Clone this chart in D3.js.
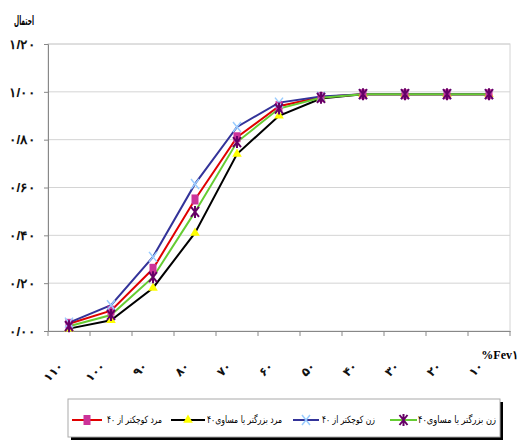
<!DOCTYPE html>
<html>
<head>
<meta charset="utf-8">
<script src="https://cdn.jsdelivr.net/npm/d3@7"></script>
<style>
  body { margin: 0; background: #fff; }
  svg { display: block; font-family: "DejaVu Sans", sans-serif; }
</style>
</head>
<body>
<div id="chart"></div>
<script>
// categories (FEV1 %), shown right to left as in the original
const categories = ["۱۱۰", "۱۰۰", "۹۰", "۸۰", "۷۰", "۶۰", "۵۰", "۴۰", "۳۰", "۲۰", "۱۰"];
const yTicks = [0, 0.2, 0.4, 0.6, 0.8, 1.0, 1.2];
const yTickLabels = ["۰/۰۰", "۰/۲۰", "۰/۴۰", "۰/۶۰", "۰/۸۰", "۱/۰۰", "۱/۲۰"];

// series values (probability)
const menUnder40 = [0.03, 0.085, 0.26, 0.55, 0.81, 0.94, 0.978, 0.99, 0.99, 0.99, 0.99];
const menOver40 = [0.01, 0.045, 0.18, 0.41, 0.74, 0.90, 0.972, 0.99, 0.99, 0.99, 0.99];
const womenUnder40 = [0.035, 0.108, 0.31, 0.615, 0.853, 0.955, 0.98, 0.99, 0.99, 0.99, 0.99];
const womenOver40 = [0.02, 0.067, 0.225, 0.498, 0.79, 0.93, 0.975, 0.99, 0.99, 0.99, 0.99];

const seriesNames = ["مرد کوچکتر از ۴۰", "مرد بزرگتر یا مساوی۴۰", "زن کوچکتر از ۴۰", "زن بزرگتر یا مساوی۴۰"];

const W = 519, H = 441;
const plotL = 48, plotR = 510, plotT = 44, plotB = 331;

const svg = d3.select("#chart").append("svg")
    .attr("width", W)
    .attr("height", H);

const x = d3.scaleBand().domain(categories).range([plotL, plotR]);
const y = d3.scaleLinear().domain([0, 1.2]).range([plotB, plotT]);

// plot frame + gridlines
svg.append("rect")
    .attr("x", plotL).attr("y", plotT)
    .attr("width", plotR - plotL).attr("height", plotB - plotT)
    .attr("fill", "none").attr("stroke", "#d4d4d4");

svg.selectAll("line.grid")
    .data(yTicks.slice(1))
    .enter().append("line")
    .attr("class", "grid")
    .attr("x1", plotL).attr("x2", plotR)
    .attr("y1", d => y(d)).attr("y2", d => y(d))
    .attr("stroke", "#d4d4d4");

// y axis
const yAxis = svg.append("g")
    .attr("transform", `translate(${plotL},0)`)
    .call(d3.axisLeft(y).tickValues(yTicks).tickSize(4).tickFormat((d, i) => yTickLabels[i]));
yAxis.select(".domain").attr("stroke", "#888");
yAxis.selectAll(".tick line").attr("stroke", "#888");
yAxis.selectAll(".tick text")
    .attr("x", -13)
    .attr("font-size", 13).attr("font-weight", "bold").attr("fill", "#111")
    .attr("textLength", 26).attr("lengthAdjust", "spacingAndGlyphs");

// x axis
const xAxis = svg.append("g")
    .attr("transform", `translate(0,${plotB})`)
    .call(d3.axisBottom(x).tickSize(0).tickFormat(""));
xAxis.select(".domain").attr("stroke", "#888");
svg.selectAll("line.xtick")
    .data(d3.range(categories.length + 1))
    .enter().append("line")
    .attr("x1", i => plotL + i * x.step()).attr("x2", i => plotL + i * x.step())
    .attr("y1", plotB).attr("y2", plotB + 5)
    .attr("stroke", "#888");

svg.selectAll("text.xlab")
    .data(categories)
    .enter().append("text")
    .attr("class", "xlab")
    .attr("text-anchor", "end")
    .attr("font-size", 12).attr("font-weight", "bold").attr("fill", "#111")
    .attr("transform", d => `translate(${x(d) + x.bandwidth() / 2 - 5},${plotB + 36}) rotate(-45)`)
    .text(d => d);

// axis titles
svg.append("text")
    .attr("x", 518).attr("y", 359)
    .attr("text-anchor", "end")
    .attr("font-size", 12).attr("font-weight", "bold")
    .attr("font-family", "Liberation Serif, serif")
    .text("%Fev۱");

svg.append("text")
    .attr("x", 24).attr("y", 25)
    .attr("text-anchor", "middle")
    .attr("font-size", 13).attr("font-weight", "bold")
    .attr("textLength", 20).attr("lengthAdjust", "spacingAndGlyphs")
    .text("احتمال");

// markers
const markers = {
    square: (g, c) => g.append("rect").attr("x", -3.5).attr("y", -5).attr("width", 7).attr("height", 10).attr("fill", c),
    triangle: (g, c) => g.append("path").attr("d", d3.symbol(d3.symbolTriangle, 40)()).attr("fill", c),
    cross: (g, c) => g.append("path").attr("d", "M-4,-5L4,5M-4,5L4,-5").attr("stroke", c).attr("stroke-width", 1.5).attr("fill", "none"),
    star: (g, c) => g.append("path").attr("d", "M-4,-5L4,5M-4,5L4,-5M0,-6L0,6").attr("stroke", c).attr("stroke-width", 2).attr("fill", "none")
};

const menOld = { name: seriesNames[1], values: menOver40, line: "#000000", marker: "triangle", mcolor: "#ffff00" };
const menYoung = { name: seriesNames[0], values: menUnder40, line: "#e00000", marker: "square", mcolor: "#cc3399" };
const womenYoung = { name: seriesNames[2], values: womenUnder40, line: "#333399", marker: "cross", mcolor: "#99ccff" };
const womenOld = { name: seriesNames[3], values: womenOver40, line: "#66cc33", marker: "star", mcolor: "#660066" };
const series = [menOld, menYoung, womenYoung, womenOld];

const line = d3.line()
    .x((d, i) => x(categories[i]) + x.bandwidth() / 2)
    .y(d => y(d));

series.forEach(s => {
    svg.append("path")
        .attr("d", line(s.values))
        .attr("fill", "none")
        .attr("stroke", s.line)
        .attr("stroke-width", 2);
});
series.forEach(s => {
    s.values.forEach((v, i) => {
        const g = svg.append("g")
            .attr("transform", `translate(${x(categories[i]) + x.bandwidth() / 2},${y(v)})`);
        markers[s.marker](g, s.mcolor);
    });
});

// legend
const lg = svg.append("g");
lg.append("rect").attr("x", 71).attr("y", 402).attr("width", 432).attr("height", 38).attr("fill", "#000");
lg.append("rect").attr("x", 68).attr("y", 399).attr("width", 432).attr("height", 38)
    .attr("fill", "#fff").attr("stroke", "#aaa");

// line start/end, text left/right edges
const legendItems = [
    { s: menYoung, l1: 72, l2: 102, t1: 107, t2: 162 },
    { s: menOld, l1: 171, l2: 205, t1: 207, t2: 282 },
    { s: womenYoung, l1: 293, l2: 319, t1: 322, t2: 375 },
    { s: womenOld, l1: 390, l2: 417, t1: 418, t2: 496 }
];
legendItems.forEach(it => {
    lg.append("line")
        .attr("x1", it.l1).attr("x2", it.l2)
        .attr("y1", 420).attr("y2", 420)
        .attr("stroke", it.s.line).attr("stroke-width", 2);
    const g = lg.append("g").attr("transform", `translate(${(it.l1 + it.l2) / 2},420)`);
    markers[it.s.marker](g, it.s.mcolor);
    lg.append("text")
        .attr("x", (it.t1 + it.t2) / 2).attr("y", 423)
        .attr("text-anchor", "middle")
        .attr("font-size", 10)
        .attr("textLength", it.t2 - it.t1).attr("lengthAdjust", "spacingAndGlyphs")
        .text(it.s.name);
});
</script>
</body>
</html>
